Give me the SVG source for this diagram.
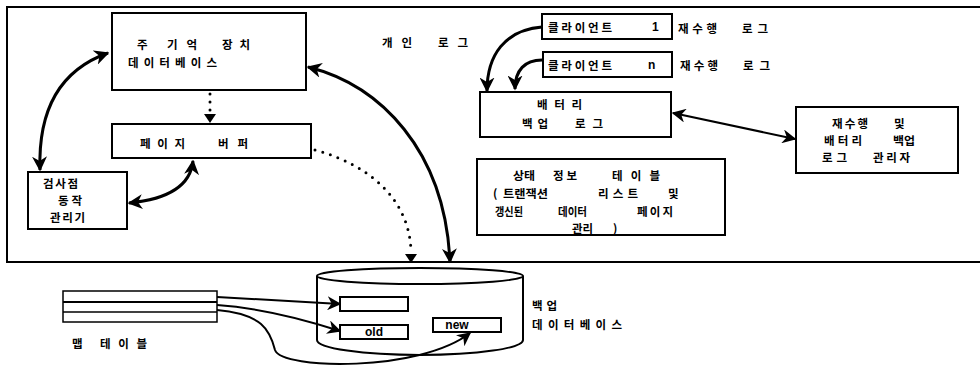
<svg xmlns="http://www.w3.org/2000/svg" width="980" height="371" viewBox="0 0 980 371">
<style>
.box{fill:#fff;stroke:#000;stroke-width:2}
.t{font-family:"Noto Sans CJK KR","Noto Sans",sans-serif;font-weight:bold;font-size:11.5px;fill:#000;dominant-baseline:central}
.lat{font-family:"Liberation Sans",sans-serif;font-weight:bold;font-size:12px;fill:#000;dominant-baseline:central}
.thick{fill:none;stroke:#000;stroke-width:3}
.med{fill:none;stroke:#000;stroke-width:2}
.dot{fill:none;stroke:#000;stroke-width:3;stroke-linecap:round;stroke-dasharray:0 8}
</style>
<defs>
<marker id="ah" viewBox="0 0 10 10" refX="9" refY="5" markerWidth="5" markerHeight="5" orient="auto-start-reverse" markerUnits="strokeWidth"><path d="M0,0 L10,5 L0,10 L3,5 Z" fill="#000"/></marker>
<marker id="ah2" viewBox="0 0 10 10" refX="9" refY="5" markerWidth="7" markerHeight="7" orient="auto-start-reverse" markerUnits="strokeWidth"><path d="M0,0 L10,5 L0,10 L3,5 Z" fill="#000"/></marker>
</defs>

<path d="M980,7 H7 V262 H980" fill="none" stroke="#000" stroke-width="2"/>

<g id="main-memory-db">
<rect class="box" x="112" y="13" width="194" height="77"/>
<text class="t" x="137" y="44">주</text>
<text class="t" x="167" y="44" textLength="30" lengthAdjust="spacing">기억</text>
<text class="t" x="222" y="44" textLength="28" lengthAdjust="spacing">장치</text>
<text class="t" x="128" y="62" textLength="89" lengthAdjust="spacing">데이터베이스</text>
</g>

<g id="page-buffer">
<rect class="box" x="112" y="124" width="199" height="34"/>
<text class="t" x="140" y="143" textLength="45" lengthAdjust="spacing">페이지</text>
<text class="t" x="218" y="143" textLength="30" lengthAdjust="spacing">버퍼</text>
</g>

<g id="checkpoint-manager">
<rect class="box" x="28" y="172" width="99" height="57"/>
<text class="t" x="43" y="183" textLength="35" lengthAdjust="spacing">검사점</text>
<text class="t" x="58" y="200" textLength="24" lengthAdjust="spacing">동작</text>
<text class="t" x="50" y="217" textLength="35" lengthAdjust="spacing">관리기</text>
</g>

<g id="private-log">
<text class="t" x="382" y="42" textLength="30" lengthAdjust="spacing">개인</text>
<text class="t" x="438" y="42" textLength="30" lengthAdjust="spacing">로그</text>
</g>

<g id="client-1">
<rect class="box" x="542" y="14" width="130" height="25"/>
<text class="t" x="548" y="27" textLength="64" lengthAdjust="spacing">클라이언트</text>
<text class="lat" x="652" y="27">1</text>
<text class="t" x="678" y="28" textLength="39" lengthAdjust="spacing">재수행</text>
<text class="t" x="742" y="28" textLength="26" lengthAdjust="spacing">로그</text>
</g>

<g id="client-n">
<rect class="box" x="543" y="52" width="129" height="25"/>
<text class="t" x="548" y="65" textLength="64" lengthAdjust="spacing">클라이언트</text>
<text class="lat" x="648" y="65">n</text>
<text class="t" x="680" y="65" textLength="38" lengthAdjust="spacing">재수행</text>
<text class="t" x="743" y="65" textLength="27" lengthAdjust="spacing">로그</text>
</g>

<g id="battery-backup-log">
<rect class="box" x="480" y="92" width="191" height="45"/>
<text class="t" x="537" y="104" textLength="45" lengthAdjust="spacing">배터리</text>
<text class="t" x="522" y="123" textLength="26" lengthAdjust="spacing">백업</text>
<text class="t" x="575" y="123" textLength="28" lengthAdjust="spacing">로그</text>
</g>

<g id="log-manager">
<rect class="box" x="796" y="107" width="162" height="66"/>
<text class="t" x="832" y="123" textLength="36" lengthAdjust="spacing">재수행</text>
<text class="t" x="894" y="123">및</text>
<text class="t" x="824" y="140" textLength="38" lengthAdjust="spacing">배터리</text>
<text class="t" x="893" y="140" textLength="22" lengthAdjust="spacingAndGlyphs">백업</text>
<text class="t" x="822" y="157" textLength="25" lengthAdjust="spacing">로그</text>
<text class="t" x="873" y="157" textLength="37" lengthAdjust="spacing">관리자</text>
</g>

<g id="status-table">
<rect class="box" x="477" y="159" width="248" height="76"/>
<text class="t" x="513" y="175" textLength="22" lengthAdjust="spacingAndGlyphs">상태</text>
<text class="t" x="553" y="175" textLength="24" lengthAdjust="spacing">정보</text>
<text class="t" x="612" y="175" textLength="48" lengthAdjust="spacing">테이블</text>
<text class="t" x="493" y="193">(</text>
<text class="t" x="503" y="193" textLength="45" lengthAdjust="spacingAndGlyphs">트랜잭션</text>
<text class="t" x="598" y="193" textLength="40" lengthAdjust="spacing">리스트</text>
<text class="t" x="668" y="193">및</text>
<text class="t" x="495" y="211" textLength="28" lengthAdjust="spacingAndGlyphs">갱신된</text>
<text class="t" x="558" y="211" textLength="29" lengthAdjust="spacingAndGlyphs">데이터</text>
<text class="t" x="637" y="211" textLength="36" lengthAdjust="spacing">페이지</text>
<text class="t" x="572" y="228" textLength="21" lengthAdjust="spacingAndGlyphs">관리</text>
<text class="t" x="613" y="228">)</text>
</g>

<g id="backup-db">
<path d="M317,276 V340 A103,15 0 0 0 523,340 V276" fill="#fff" stroke="#000" stroke-width="2"/>
<ellipse cx="420" cy="276" rx="103" ry="8" fill="#fff" stroke="#000" stroke-width="2"/>
<rect class="box" x="340" y="297" width="68" height="14"/>
<rect class="box" x="340" y="325" width="68" height="14"/>
<text class="lat" x="374" y="332" text-anchor="middle">old</text>
<rect class="box" x="433" y="318" width="68" height="14"/>
<text class="lat" x="457" y="325" text-anchor="middle">new</text>
<text class="t" x="532" y="305" textLength="25" lengthAdjust="spacing">백업</text>
<text class="t" x="532" y="324" textLength="90" lengthAdjust="spacing">데이터베이스</text>
</g>

<g id="map-table">
<rect x="63" y="291" width="154" height="31" fill="#fff" stroke="#000" stroke-width="1.5"/>
<line x1="63" y1="302" x2="217" y2="302" stroke="#000" stroke-width="2"/>
<line x1="63" y1="312" x2="217" y2="312" stroke="#000" stroke-width="1.5"/>
<text class="t" x="72" y="343">맵</text>
<text class="t" x="100" y="343" textLength="47" lengthAdjust="spacing">테이블</text>
</g>

<g id="connectors">
<path class="thick" d="M108,53 C60,70 38,110 40,170" marker-start="url(#ah)" marker-end="url(#ah)"/>
<path class="thick" d="M193,161 C190,190 160,200 129,203" marker-start="url(#ah)" marker-end="url(#ah)"/>
<path class="dot" d="M210,94 V116"/>
<path d="M204,114 L216,114 L210,123 Z" fill="#000"/>
<path class="thick" d="M308,67 C380,85 445,150 450,262" marker-start="url(#ah)" marker-end="url(#ah)"/>
<path class="dot" d="M315,150 C370,165 410,200 411,252"/>
<path d="M405,254 L417,254 L411,263 Z" fill="#000"/>
<path class="thick" d="M542,27 C505,30 487,55 487,91" marker-end="url(#ah)"/>
<path class="thick" d="M542,60 C525,60 515,70 515,89" marker-end="url(#ah)"/>
<path class="med" d="M673,113 L795,139" marker-start="url(#ah2)" marker-end="url(#ah2)"/>
<path class="med" d="M217,297 L340,304" marker-end="url(#ah2)"/>
<path class="med" d="M217,305 C260,308 300,318 340,331" marker-end="url(#ah2)"/>
<path class="med" d="M217,310 C262,314 270,330 275,350 C282,370 420,372 470,333" marker-end="url(#ah2)"/>
</g>
</svg>
